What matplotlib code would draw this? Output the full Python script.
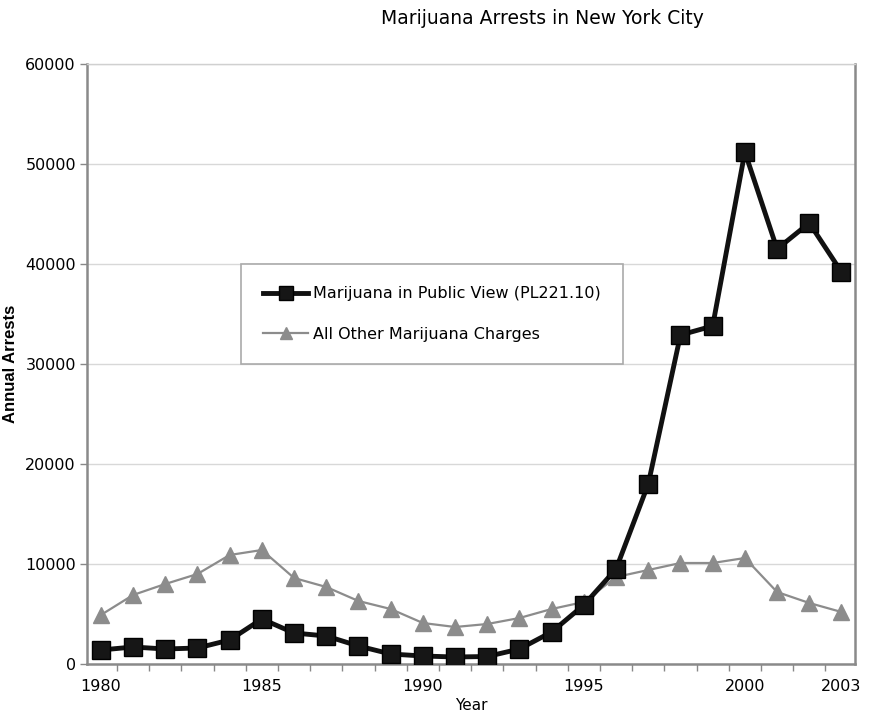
import matplotlib
matplotlib.use("Agg")
import matplotlib.pyplot as plt
import numpy as np

plt.rcParams["font.family"] = "DejaVu Sans"

years = list(range(1980, 2004))
public_view = [1400, 1700, 1500, 1600, 2400, 4500, 3100, 2800, 1800, 1000, 800, 700,
               750, 1500, 3200, 5900, 9500, 18000, 32900, 33800, 51200, 41500, 44100, 39200]
other_charges = [4900, 6900, 8000, 9000, 10900, 11400, 8600, 7700, 6300, 5500, 4100, 3700,
                 4000, 4600, 5500, 6200, 8700, 9400, 10100, 10100, 10600, 7200, 6100, 5200]
tick_years = [1980, 1985, 1990, 1995, 2000, 2003]

fig = plt.figure(figsize=(8.72, 7.21), dpi=100)
ax = fig.add_axes([87 / 872, 1 - 664 / 721, 768 / 872, 600 / 721])

x = np.arange(len(years))
ax.plot(x, other_charges, color='#8c8c8c', lw=1.6, marker='^', markersize=11,
        markerfacecolor='#8c8c8c', markeredgecolor='#8c8c8c',
        label='All Other Marijuana Charges', zorder=3)
ax.plot(x, public_view, color='#111111', lw=3.5, marker='s', markersize=13,
        markerfacecolor='#161616', markeredgecolor='#000000',
        label='Marijuana in Public View (PL221.10)', zorder=4)

ax.set_xlim(-0.43, 23.42)
ax.set_ylim(0, 60000)
ax.set_yticks(np.arange(0, 60001, 10000))
ax.set_xticks([years.index(y) for y in tick_years])
ax.set_xticklabels([str(y) for y in tick_years])
ax.set_xticks(np.arange(0.5, 23, 1), minor=True)
ax.tick_params(axis='x', which='major', length=0, pad=11, labelsize=11.5)
ax.tick_params(axis='x', which='minor', length=5, color='#888888', width=1)
ax.tick_params(axis='y', length=5, color='#888888', width=1, labelsize=11.5, pad=3)

ax.grid(axis='y', color='#d8d8d8', lw=1)
ax.set_axisbelow(True)
for s in ax.spines.values():
    s.set_color('#8a8a8a')
    s.set_linewidth(1.8)
ax.spines['top'].set_color('#d0d0d0')
ax.spines['top'].set_linewidth(1)

ax.set_xlabel('Year', fontsize=11, labelpad=3)
ax.set_ylabel('Annual Arrests', fontsize=12, fontweight='bold',
              family=['Liberation Sans', 'DejaVu Sans'], labelpad=5)

fig.text(542 / 872, 1 - 18 / 721, 'Marijuana Arrests in New York City',
         ha='center', va='center', fontsize=13.5)

h, l = ax.get_legend_handles_labels()
leg = ax.legend(h[::-1], l[::-1], loc='upper left',
                bbox_to_anchor=((241 - 87) / 768, 1 - (264 - 64) / 600),
                fontsize=11.5, labelspacing=1.6, borderpad=1.4, handlelength=2.8,
                handletextpad=0.3, fancybox=False, framealpha=1, markerscale=0.8,
                borderaxespad=0)
leg.get_frame().set_edgecolor('#aaaaaa')
leg.get_frame().set_linewidth(1.2)

fig.savefig('out.png', dpi=100)
